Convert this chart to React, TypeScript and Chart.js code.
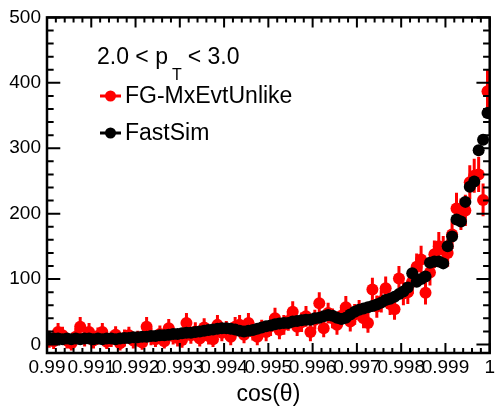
import React, { useEffect, useRef } from "react";
import { Chart, registerables } from "chart.js";

Chart.register(...registerables);

// Histogram binning: 100 bins between 0.99 and 1.0
const X_MIN = 0.99;
const X_MAX = 1.0;
const BIN_WIDTH = 0.0001;
const Y_MIN = -13;
const Y_MAX = 500;

const legendHeader = { pre: "2.0 < p", sub: "T", post: "< 3.0" };
const seriesNames = ["FG-MxEvtUnlike", "FastSim"];
const xTitle = "cos(θ)";

const redValues: number[] = [
  8, 5, 19, 14, 6, 2, 12, 27, 10, 19,
  6, 13, 19, 4, 8, 15, 2, 10, 14, 6,
  9, 3, 27, 12, 8, 16, 5, 25, 13, 10,
  7, 33, 14, 20, 9, 26, 13, 8, 30, 18,
  22, 12, 27, 30, 15, 33, 20, 12, 24, 19,
  28, 40, 22, 30, 36, 50, 27, 34, 43, 19,
  38, 63, 25, 48, 40, 30, 44, 57, 35, 46,
  52, 40, 33, 84, 58, 66, 86, 62, 54, 101,
  78, 80, 96, 119, 130, 79, 110, 138, 150, 145,
  140, 168, 208, 199, 205, 248, 258, 260, 221, 387,
];

const redErrors: number[] = [
  13, 12, 14, 13, 12, 11, 13, 15, 13, 14,
  12, 13, 14, 11, 12, 13, 11, 13, 13, 12,
  12, 11, 15, 13, 12, 13, 11, 14, 13, 13,
  12, 15, 13, 14, 12, 14, 13, 12, 15, 13,
  14, 13, 15, 15, 13, 15, 14, 13, 14, 14,
  15, 16, 14, 15, 15, 16, 14, 15, 16, 14,
  15, 17, 14, 16, 15, 15, 16, 17, 15, 16,
  16, 15, 15, 18, 17, 17, 18, 17, 16, 19,
  18, 18, 19, 20, 21, 18, 20, 21, 22, 21,
  21, 22, 24, 24, 24, 26, 26, 27, 25, 33,
];

const blackValues: number[] = [
  10, 9, 9, 8, 9, 8, 9, 8, 9, 9,
  8, 9, 8, 9, 9, 8, 9, 10, 10, 11,
  11, 12, 12, 13, 13, 14, 14, 15, 16, 16,
  17, 18, 18, 19, 20, 21, 22, 23, 24, 25,
  25, 24, 23, 21, 20, 21, 22, 24, 26, 28,
  29, 31, 32, 33, 33, 35, 36, 37, 38, 38,
  40, 41, 43, 45, 44, 41, 39, 41, 46, 50,
  53, 55, 57, 59, 61, 64, 68, 70, 73, 77,
  81, 87, 109, 96, 100, 104, 125, 127, 127, 124,
  150, 165, 191, 188, 218, 241, 249, 297, 313, 354,
];

const blackErrors: number[] = [
  2, 2, 2, 2, 2, 2, 2, 2, 2, 2,
  2, 2, 2, 2, 2, 2, 2, 2, 2, 2,
  2, 2, 2, 2, 2, 2, 2, 2, 2, 2,
  2, 2, 2, 2, 2, 2, 2, 2, 2, 2,
  2, 2, 2, 2, 2, 2, 2, 2, 2, 2,
  3, 3, 3, 3, 3, 3, 3, 3, 3, 3,
  3, 3, 3, 3, 3, 3, 3, 3, 3, 3,
  3, 3, 3, 3, 3, 4, 4, 4, 4, 4,
  4, 4, 5, 5, 5, 5, 5, 5, 5, 5,
  6, 6, 6, 6, 7, 7, 7, 8, 8, 8,
];

const binCenters: number[] = redValues.map((_, i) => X_MIN + (i + 0.5) * BIN_WIDTH);

const RED = "#ff0000";
const BLACK = "#000000";
const FONT = '"Liberation Sans", Arial, Helvetica, sans-serif';

const rootPlugin = {
  id: "rootStyle",
  beforeDatasetsDraw(chart: any) {
    const ctx = chart.ctx;
    const xs = chart.scales.x;
    const ys = chart.scales.y;
    const a = chart.chartArea;
    ctx.save();
    ctx.beginPath();
    ctx.rect(a.left, a.top, a.right - a.left, a.bottom - a.top);
    ctx.clip();
    const sets: [number[], number[], string][] = [
      [redValues, redErrors, RED],
      [blackValues, blackErrors, BLACK],
    ];
    for (const [vals, errs, col] of sets) {
      ctx.strokeStyle = col;
      ctx.lineWidth = 3;
      ctx.beginPath();
      for (let i = 0; i < vals.length; i++) {
        const x = xs.getPixelForValue(binCenters[i]);
        ctx.moveTo(x, ys.getPixelForValue(vals[i] - errs[i]));
        ctx.lineTo(x, ys.getPixelForValue(vals[i] + errs[i]));
      }
      ctx.stroke();
    }
    ctx.restore();
  },
  afterDraw(chart: any) {
    const ctx = chart.ctx;
    const xs = chart.scales.x;
    const ys = chart.scales.y;
    const a = chart.chartArea;
    const W = a.right - a.left;
    const H = a.bottom - a.top;
    ctx.save();
    ctx.strokeStyle = "#000";
    // ticks
    ctx.lineWidth = 2;
    ctx.beginPath();
    const yMaj = 0.03 * W;
    for (let k = 0; k <= 25; k++) {
      const v = k * 20;
      const py = ys.getPixelForValue(v);
      const len = k % 5 === 0 ? yMaj : yMaj / 2;
      ctx.moveTo(a.left, py);
      ctx.lineTo(a.left + len, py);
      ctx.moveTo(a.right, py);
      ctx.lineTo(a.right - len, py);
    }
    const xMaj = 0.03 * H;
    for (let k = 0; k <= 50; k++) {
      const v = X_MIN + k * 0.0002;
      const px = xs.getPixelForValue(v);
      const len = k % 5 === 0 ? xMaj : xMaj / 2;
      ctx.moveTo(px, a.bottom);
      ctx.lineTo(px, a.bottom - len);
      ctx.moveTo(px, a.top);
      ctx.lineTo(px, a.top + len);
    }
    ctx.stroke();
    // frame
    ctx.lineWidth = 2.5;
    ctx.strokeRect(a.left, a.top, W, H);

    // axis title
    ctx.fillStyle = "#000";
    ctx.font = `23px ${FONT}`;
    ctx.textAlign = "center";
    ctx.textBaseline = "alphabetic";
    ctx.fillText(xTitle, (a.left + a.right) / 2, 401);

    // legend header
    ctx.textAlign = "left";
    ctx.font = `23px ${FONT}`;
    let hx = 97;
    ctx.fillText(legendHeader.pre, hx, 64);
    hx += ctx.measureText(legendHeader.pre).width + 4;
    ctx.font = `16px ${FONT}`;
    ctx.fillText(legendHeader.sub, hx, 80);
    hx += ctx.measureText(legendHeader.sub).width + 6;
    ctx.font = `23px ${FONT}`;
    ctx.fillText(legendHeader.post, hx, 64);

    // legend entries
    const entries: [string, string, number][] = [
      [seriesNames[0], RED, 96],
      [seriesNames[1], BLACK, 133],
    ];
    for (const [label, col, ly] of entries) {
      ctx.strokeStyle = col;
      ctx.fillStyle = col;
      ctx.lineWidth = 3;
      ctx.beginPath();
      ctx.moveTo(100, ly);
      ctx.lineTo(121, ly);
      ctx.stroke();
      ctx.beginPath();
      ctx.arc(110.5, ly, 5.5, 0, Math.PI * 2);
      ctx.fill();
      ctx.fillStyle = "#000";
      ctx.font = `23px ${FONT}`;
      ctx.fillText(label, 125, ly + 6.5);
    }
    ctx.restore();
  },
};

export default function App() {
  const canvasRef = useRef<HTMLCanvasElement | null>(null);

  useEffect(() => {
    document.body.style.margin = "0";
    const canvas = canvasRef.current;
    if (!canvas) return;
    const chart = new Chart(canvas, {
      type: "scatter",
      data: {
        datasets: [
          {
            label: seriesNames[1],
            data: binCenters.map((x, i) => ({ x, y: blackValues[i] })),
            backgroundColor: BLACK,
            borderColor: BLACK,
            pointRadius: 6,
            pointBorderWidth: 0,
          },
          {
            label: seriesNames[0],
            data: binCenters.map((x, i) => ({ x, y: redValues[i] })),
            backgroundColor: RED,
            borderColor: RED,
            pointRadius: 6,
            pointBorderWidth: 0,
          },
        ],
      },
      options: {
        animation: false,
        responsive: false,
        devicePixelRatio: 1,
        layout: { padding: { top: 17, right: 3, left: 0, bottom: 0 } },
        plugins: {
          legend: { display: false },
          tooltip: { enabled: false },
        },
        scales: {
          x: {
            type: "linear",
            min: X_MIN,
            max: X_MAX,
            grid: { display: false, drawTicks: false },
            border: { display: false },
            afterFit: (scale: any) => {
              scale.height = 56;
            },
            ticks: {
              stepSize: 0.001,
              includeBounds: false,
              autoSkip: false,
              maxRotation: 0,
              minRotation: 0,
              padding: 3,
              color: "#000",
              font: { family: FONT, size: 19 },
              callback: (v: any) => {
                const n = Math.round(Number(v) * 1000) / 1000;
                return String(n);
              },
            },
          },
          y: {
            type: "linear",
            min: Y_MIN,
            max: Y_MAX,
            grid: { display: false, drawTicks: false },
            border: { display: false },
            afterFit: (scale: any) => {
              scale.width = 47;
            },
            ticks: {
              stepSize: 100,
              includeBounds: false,
              padding: 6,
              color: "#000",
              font: { family: FONT, size: 19 },
              callback: (v: any) => String(Math.round(Number(v))),
            },
          },
        },
      },
      plugins: [rootPlugin],
    });
    return () => chart.destroy();
  }, []);

  return (
    <div style={{ position: "fixed", left: 0, top: 0, width: 498, height: 409, background: "#fff" }}>
      <canvas ref={canvasRef} width={498} height={409} />
    </div>
  );
}
